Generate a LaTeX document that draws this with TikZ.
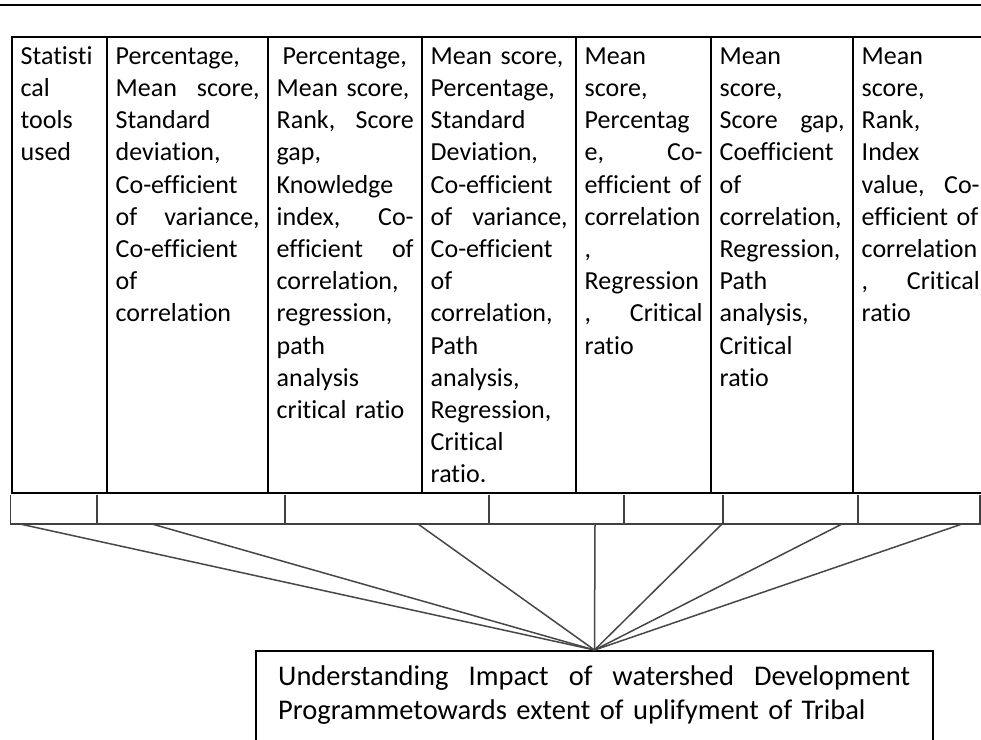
\documentclass[tikz,border=0pt]{standalone}
\usepackage{fontspec}
\setmainfont{Carlito}[Ligatures={NoCommon,NoContextual}]
\begin{document}
\begin{tikzpicture}[x=1pt,y=-1pt,
  tableline/.style={line width=2pt, black},
  stripline/.style={line width=1.7pt, black!75},
  spoke/.style={line width=1.5pt, black!72},
  cell/.style={anchor=north west, inner sep=0pt, align=left, font=\fontsize{26}{32.2}\selectfont},
  goalbox/.style={draw, line width=2pt, minimum width=677pt, minimum height=120pt, anchor=north, inner sep=0pt},
  goaltext/.style={anchor=north west, inner sep=0pt, align=left, text width=632pt, font=\fontsize{28.5}{34}\selectfont}
]
\useasboundingbox (0,0) rectangle (981,739);
\clip (0,0) rectangle (981,739);
\fill[white] (0,0) rectangle (981,739);

% top rule
\draw[line width=2.6pt] (0,5) -- (981,5);

% strip below the table
\draw[stripline] (10.5,495) -- (10.5,524) -- (980,524) -- (980,495);
\foreach \x in {97,285,489,624,723,858} \draw[stripline] (\x,495) -- (\x,524);

% table
\draw[tableline] (12,37) rectangle (988,493);
\foreach \x in {107,268,422,576,711,853} \draw[tableline] (\x,37) -- (\x,493);

% cells
\node[cell, text width=78pt] (c1) at (20.5,41.46) {\strut Statisti\\cal\\tools\\used};
\node[cell, text width=144pt] (c2) at (115.5,41.46) {\strut Percentage,\\Mean\hfill score,\\Standard\\deviation,\\Co-efficient\\of\hfill variance,\\Co-efficient\\of\\correlation};
\node[cell, text width=137pt] (c3) at (276.5,41.46) {\strut\hspace*{5.9pt}Percentage,\\Mean score,\\Rank,\hfill Score\\gap,\\Knowledge\\index,\hfill Co-\\efficient\hfill of\\correlation,\\regression,\\path\\analysis\\critical ratio};
\node[cell, text width=137pt] (c4) at (430.5,41.46) {\strut Mean score,\\Percentage,\\Standard\\Deviation,\\Co-efficient\\of\hfill variance,\\Co-efficient\\of\\correlation,\\Path\\analysis,\\Regression,\\Critical\\ratio.};
\node[cell, text width=118pt] (c5) at (584.5,41.46) {\strut Mean\\score,\\Percentag\\e,\hfill Co-\\efficient of\\correlation\\,\\Regression\\,\hfill Critical\\ratio};
\node[cell, text width=125pt] (c6) at (719.5,41.46) {\strut Mean\\score,\\Score\hfill gap,\\Coefficient\\of\\correlation,\\Regression,\\Path\\analysis,\\Critical\\ratio};
\node[cell, text width=118pt] (c7) at (861.5,41.46) {\strut Mean\\score,\\Rank,\\Index\\value,\hfill Co-\\efficient of\\correlation\\,\hfill Critical\\ratio};

% goal box
\node[goalbox] (goal) at (594.5,650) {};
\node[goaltext] (goalt) at (278,661.2) {\strut Understanding\hfill Impact\hfill of\hfill watershed\hfill Development\\Programmetowards extent of uplifyment of Tribal};

% spokes
\foreach \x [count=\i] in {20,152,418,595,722,842,962} \coordinate (s\i) at (\x,524);
\foreach \i in {1,...,7} \draw[spoke] (s\i) -- (goal.north);
\end{tikzpicture}
\end{document}
